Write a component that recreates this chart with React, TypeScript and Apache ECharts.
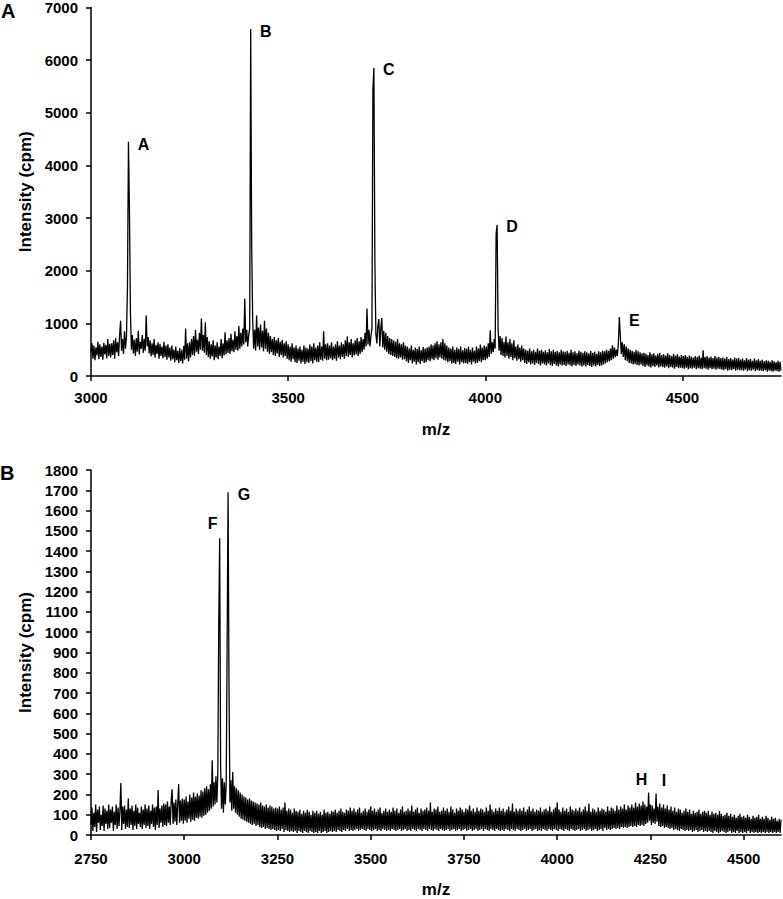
import React, { useEffect, useRef } from "react";
import * as echarts from "echarts";

// ---------- Panel A (m/z 3000 - 4750, sampled every 2.5) ----------
const mzStartA = 3000;
const mzStepA = 2.5;
const intensityA = [
  // 3000
  450, 620, 330, 580, 300, 540, 390, 650, 320, 600,
  360, 560, 310, 630, 410, 590, 340, 700, 380, 610,
  // 3050
  350, 620, 400, 680, 330, 720, 450, 640, 380, 760,
  1050, 480, 700, 420, 850, 520, 760, 1700, 4450, 3150,
  // 3100
  1200, 500, 780, 430, 690, 380, 720, 460, 860, 410,
  650, 520, 780, 440, 700, 480, 1150, 560, 740, 430,
  // 3150
  680, 370, 620, 400, 700, 350, 590, 420, 640, 330,
  610, 380, 560, 340, 650, 360, 580, 310, 600, 350,
  // 3200
  540, 290, 580, 320, 500, 260, 560, 300, 480, 250,
  530, 280, 500, 240, 570, 310, 900, 330, 620, 280,
  // 3250
  640, 350, 700, 400, 760, 380, 880, 460, 690, 420,
  820, 500, 1090, 480, 780, 440, 1020, 400, 740, 360,
  // 3300
  660, 330, 600, 370, 680, 300, 580, 350, 640, 320,
  560, 380, 700, 340, 620, 390, 830, 410, 680, 440,
  // 3350
  720, 420, 800, 470, 690, 450, 850, 500, 760, 480,
  950, 520, 820, 560, 900, 600, 1470, 640, 880, 560,
  // 3400
  780, 900, 6590, 2500, 1100, 520, 880, 480, 1150, 560,
  920, 500, 980, 540, 860, 470, 1050, 520, 900, 460,
  // 3450
  820, 420, 760, 450, 700, 400, 740, 380, 680, 430,
  720, 360, 650, 400, 690, 350, 620, 380, 660, 330,
  // 3500
  600, 300, 560, 270, 620, 320, 540, 260, 580, 250,
  520, 290, 560, 240, 500, 270, 580, 230, 540, 260,
  // 3550
  520, 250, 600, 280, 560, 240, 620, 300, 540, 270,
  580, 260, 640, 310, 560, 290, 850, 330, 600, 300,
  // 3600
  620, 310, 580, 340, 640, 300, 560, 330, 600, 290,
  660, 350, 580, 320, 640, 360, 600, 330, 680, 380,
  // 3650
  750, 360, 640, 400, 700, 350, 620, 390, 680, 410,
  720, 380, 660, 420, 740, 450, 700, 500, 820, 560,
  // 3700
  1280, 600, 880, 560, 760, 900, 5450, 5855, 2150, 800,
  620, 940, 1080, 560, 900, 1100, 540, 860, 500, 820,
  // 3750
  460, 760, 420, 720, 400, 700, 380, 680, 360, 650,
  340, 700, 330, 620, 350, 600, 310, 640, 320, 580,
  // 3800
  280, 560, 250, 520, 300, 580, 240, 500, 270, 540,
  220, 510, 260, 560, 230, 490, 280, 550, 250, 520,
  // 3850
  260, 540, 300, 560, 280, 600, 320, 580, 300, 620,
  340, 660, 310, 600, 350, 640, 330, 700, 300, 620,
  // 3900
  290, 580, 260, 540, 280, 520, 240, 560, 250, 500,
  230, 540, 270, 510, 220, 560, 260, 490, 240, 530,
  // 3950
  250, 520, 230, 560, 260, 500, 220, 540, 270, 480,
  240, 560, 250, 520, 280, 600, 260, 540, 300, 580,
  // 4000
  300, 560, 330, 620, 360, 870, 420, 640, 450, 700,
  520, 2700, 2870, 900, 480, 760, 400, 720, 380, 650,
  // 4050
  350, 750, 380, 640, 330, 700, 360, 620, 300, 680,
  340, 560, 290, 600, 320, 540, 270, 580, 300, 520,
  // 4100
  250, 500, 230, 480, 260, 520, 220, 470, 240, 500,
  210, 460, 250, 520, 230, 480, 200, 500, 240, 460,
  // 4150
  220, 490, 200, 450, 240, 510, 210, 470, 190, 500,
  230, 460, 200, 480, 180, 450, 220, 500, 200, 470,
  // 4200
  210, 460, 190, 480, 220, 440, 200, 500, 180, 450,
  210, 470, 190, 430, 220, 480, 200, 460, 180, 440,
  // 4250
  200, 470, 180, 450, 210, 430, 190, 480, 170, 440,
  200, 460, 180, 420, 210, 470, 190, 450, 200, 480,
  // 4300
  220, 470, 240, 500, 260, 480, 280, 520, 300, 585,
  330, 540, 360, 500, 380, 620, 1120, 760, 420, 640,
  // 4350
  360, 600, 300, 560, 280, 520, 250, 500, 240, 480,
  220, 460, 230, 500, 210, 470, 200, 450, 220, 430,
  // 4400
  190, 440, 170, 420, 200, 400, 180, 450, 160, 410,
  190, 430, 170, 390, 200, 420, 160, 440, 180, 400,
  // 4450
  170, 410, 160, 390, 180, 430, 150, 400, 170, 380,
  160, 420, 140, 390, 170, 410, 150, 370, 160, 400,
  // 4500
  150, 380, 140, 400, 160, 360, 130, 390, 150, 370,
  140, 350, 160, 380, 130, 360, 150, 390, 140, 350,
  // 4550
  130, 490, 150, 360, 140, 380, 120, 350, 150, 370,
  130, 340, 140, 380, 120, 350, 140, 360, 130, 340,
  // 4600
  120, 350, 110, 330, 130, 360, 100, 320, 120, 340,
  110, 310, 130, 350, 100, 330, 120, 340, 110, 310,
  // 4650
  110, 330, 100, 300, 120, 340, 90, 310, 110, 320,
  100, 290, 120, 330, 90, 300, 110, 320, 100, 290,
  // 4700
  100, 310, 90, 280, 110, 300, 80, 290, 100, 270,
  90, 300, 80, 280, 100, 260, 90, 290, 80, 270,
  // 4750
  100,
];
const peaksA = [
  { name: "A", mz: 3095 },
  { name: "B", mz: 3405 },
  { name: "C", mz: 3717.5 },
  { name: "D", mz: 4030 },
  { name: "E", mz: 4340 },
];
const xTicksA = [3000, 3500, 4000, 4500];

// ---------- Panel B (m/z 2750 - 4600, sampled every 2.5) ----------
const mzStartB = 2750;
const mzStepB = 2.5;
const intensityB = [
  // 2750
  50, 135, 20, 110, 40, 150, 15, 125, 60, 140,
  25, 100, 45, 145, 20, 130, 55, 120, 30, 150,
  // 2800
  35, 125, 60, 140, 20, 115, 50, 150, 30, 135,
  45, 120, 256, 25, 140, 55, 145, 30, 125, 40,
  // 2850
  180, 35, 130, 50, 145, 25, 120, 45, 150, 30,
  135, 55, 110, 40, 140, 30, 125, 50, 150, 35,
  // 2900
  130, 45, 145, 30, 120, 55, 150, 40, 135, 25,
  140, 50, 222, 35, 130, 60, 145, 40, 155, 50,
  // 2950
  150, 45, 165, 60, 140, 50, 170, 225, 55, 160,
  65, 175, 50, 150, 251, 60, 170, 70, 180, 55,
  // 3000
  175, 70, 190, 60, 165, 80, 200, 65, 185, 75,
  210, 70, 190, 85, 205, 80, 195, 90, 220, 85,
  // 3050
  215, 95, 230, 100, 240, 110, 225, 120, 250, 130,
  368, 140, 260, 150, 290, 160, 300, 1040, 1463, 340,
  // 3100
  130, 280, 110, 260, 150, 250, 935, 1690, 740, 160,
  270, 120, 310, 130, 240, 110, 230, 100, 220, 90,
  // 3150
  210, 80, 200, 75, 190, 70, 185, 65, 175, 60,
  180, 55, 170, 50, 165, 55, 160, 45, 155, 50,
  // 3200
  150, 40, 160, 35, 145, 40, 140, 30, 150, 35,
  135, 30, 145, 25, 140, 30, 130, 25, 135, 20,
  // 3250
  130, 25, 140, 20, 125, 30, 135, 15, 160, 25,
  120, 20, 130, 15, 125, 20, 110, 15, 130, 20,
  // 3300
  120, 10, 115, 20, 125, 15, 105, 10, 120, 20,
  110, 15, 125, 10, 115, 20, 100, 15, 120, 10,
  // 3350
  110, 15, 120, 10, 105, 20, 115, 10, 100, 15,
  125, 20, 110, 10, 115, 15, 105, 20, 120, 15,
  // 3400
  115, 20, 125, 15, 110, 25, 120, 20, 130, 15,
  115, 25, 110, 20, 125, 30, 120, 20, 135, 25,
  // 3450
  120, 20, 130, 25, 115, 30, 125, 20, 135, 25,
  110, 30, 120, 25, 130, 20, 115, 30, 125, 25,
  // 3500
  140, 20, 120, 25, 130, 30, 115, 20, 125, 25,
  135, 20, 110, 30, 120, 25, 130, 20, 115, 25,
  // 3550
  125, 20, 115, 30, 135, 25, 120, 20, 130, 25,
  110, 30, 125, 20, 140, 25, 115, 30, 120, 20,
  // 3600
  130, 25, 120, 20, 145, 30, 115, 25, 125, 20,
  135, 30, 110, 25, 130, 20, 120, 30, 125, 25,
  // 3650
  135, 20, 120, 30, 160, 25, 115, 20, 130, 30,
  125, 25, 140, 20, 115, 30, 120, 25, 135, 20,
  // 3700
  120, 25, 130, 30, 115, 20, 140, 25, 125, 30,
  110, 20, 130, 25, 120, 30, 135, 20, 125, 25,
  // 3750
  115, 30, 130, 20, 125, 25, 145, 30, 120, 20,
  130, 25, 115, 30, 135, 20, 120, 25, 130, 30,
  // 3800
  125, 20, 115, 30, 135, 25, 120, 20, 150, 30,
  125, 25, 115, 20, 130, 30, 120, 25, 135, 20,
  // 3850
  120, 25, 130, 20, 115, 30, 125, 25, 140, 20,
  120, 30, 155, 25, 115, 20, 130, 30, 120, 25,
  // 3900
  130, 20, 120, 25, 135, 30, 115, 20, 125, 25,
  140, 30, 120, 20, 130, 25, 115, 30, 125, 20,
  // 3950
  120, 25, 135, 20, 115, 30, 125, 25, 130, 20,
  120, 30, 140, 25, 115, 20, 125, 30, 135, 25,
  // 4000
  160, 20, 125, 30, 115, 25, 135, 20, 120, 30,
  130, 25, 115, 20, 140, 30, 125, 25, 120, 20,
  // 4050
  130, 25, 120, 30, 135, 20, 115, 25, 125, 30,
  140, 20, 120, 25, 155, 30, 115, 20, 130, 25,
  // 4100
  125, 30, 115, 20, 135, 25, 120, 30, 130, 20,
  125, 35, 115, 25, 140, 30, 120, 25, 135, 30,
  // 4150
  130, 35, 120, 30, 145, 35, 125, 30, 140, 40,
  130, 35, 150, 40, 125, 35, 145, 40, 135, 45,
  // 4200
  150, 40, 135, 45, 160, 40, 140, 50, 155, 45,
  145, 50, 165, 45, 150, 55, 140, 60, 210, 70,
  // 4250
  150, 50, 145, 60, 130, 55, 205, 65, 140, 45,
  155, 40, 135, 45, 150, 35, 130, 40, 145, 35,
  // 4300
  125, 30, 140, 35, 120, 25, 135, 30, 115, 25,
  130, 20, 125, 30, 110, 25, 120, 20, 130, 25,
  // 4350
  115, 20, 125, 25, 105, 15, 120, 20, 110, 25,
  115, 15, 125, 20, 105, 25, 115, 15, 120, 20,
  // 4400
  110, 15, 120, 20, 100, 15, 115, 10, 105, 20,
  110, 15, 100, 10, 120, 15, 105, 20, 95, 15,
  // 4450
  100, 10, 110, 15, 95, 20, 105, 10, 90, 15,
  100, 10, 85, 20, 95, 10, 105, 15, 90, 10,
  // 4500
  95, 15, 85, 10, 100, 20, 90, 10, 80, 15,
  95, 10, 85, 15, 90, 10, 100, 15, 80, 10,
  // 4550
  90, 15, 80, 10, 95, 15, 85, 10, 75, 15,
  90, 10, 80, 15, 85, 10, 70, 15, 80, 10,
  // 4600
  75,
];
const peaksB = [
  { name: "F", mz: 3095 },
  { name: "G", mz: 3117.5 },
  { name: "H", mz: 4245 },
  { name: "I", mz: 4265 },
];
const xTicksB = [2750, 3000, 3250, 3500, 3750, 4000, 4250, 4500];

// label offsets (style)
const labelOffsetsA: Record<string, number[]> = {
  A: [15, 3], B: [15, 2], C: [15, 2], D: [15, 2], E: [15, 3],
};
const labelOffsetsB: Record<string, number[]> = {
  F: [-7, -15], G: [16, 2], H: [-7, -13], I: [8, -13],
};

const FONT = "'Liberation Sans', Arial, Helvetica, sans-serif";

function toPairs(start: number, step: number, vals: number[]) {
  return vals.map((v, i) => [start + i * step, v]);
}

function peakMarks(
  peaks: { name: string; mz: number }[],
  start: number,
  step: number,
  vals: number[],
  offsets: Record<string, number[]>
) {
  return peaks.map((p) => {
    const idx = Math.round((p.mz - start) / step);
    return {
      name: p.name,
      coord: [p.mz, vals[idx]],
      label: { offset: offsets[p.name] },
    };
  });
}

const plain = (v: number) => String(v);

function xAxisCfg(gridIndex: number, min: number, max: number, ticks: number[], margin: number, nameGap: number) {
  return {
    type: "value",
    gridIndex,
    min,
    max,
    axisLine: { show: true, onZero: false, lineStyle: { color: "#000", width: 1.5 } },
    axisTick: { show: true, inside: false, length: 5, customValues: ticks, lineStyle: { color: "#000", width: 1.5 } },
    axisLabel: {
      customValues: ticks,
      formatter: plain,
      margin,
      color: "#000",
      fontFamily: FONT,
      fontWeight: "bold",
      fontSize: 15,
    },
    splitLine: { show: false },
    name: "m/z",
    nameLocation: "middle",
    nameGap,
    nameTextStyle: { color: "#000", fontFamily: FONT, fontWeight: "bold", fontSize: 17 },
  };
}

function yAxisCfg(gridIndex: number, max: number, interval: number) {
  return {
    type: "value",
    gridIndex,
    min: 0,
    max,
    interval,
    axisLine: { show: true, lineStyle: { color: "#000", width: 1.5 } },
    axisTick: { show: true, inside: false, length: 5, lineStyle: { color: "#000", width: 1.5 } },
    axisLabel: {
      formatter: plain,
      margin: 13,
      color: "#000",
      fontFamily: FONT,
      fontWeight: "bold",
      fontSize: 15,
    },
    splitLine: { show: false },
    name: "Intensity (cpm)",
    nameLocation: "middle",
    nameRotate: 90,
    nameGap: 50,
    nameTextStyle: { color: "#000", fontFamily: FONT, fontWeight: "bold", fontSize: 17 },
  };
}

function markCfg(data: any[]) {
  return {
    symbol: "circle",
    symbolSize: 1,
    silent: true,
    itemStyle: { color: "rgba(0,0,0,0)" },
    label: {
      show: true,
      position: "inside",
      formatter: "{b}",
      color: "#000",
      fontFamily: FONT,
      fontWeight: "bold",
      fontSize: 16,
    },
    data,
  };
}

export default function App() {
  const ref = useRef<HTMLDivElement>(null);

  useEffect(() => {
    if (!ref.current) return;
    const chart = echarts.init(ref.current, undefined, { renderer: "svg" });
    const option = {
      animation: false,
      backgroundColor: "#fff",
      grid: [
        { left: 91, top: 5, width: 690, height: 371 },
        { left: 91, top: 470, width: 690, height: 368 },
      ],
      xAxis: [
        xAxisCfg(0, 3000, 4750, xTicksA, 14, 45),
        xAxisCfg(1, 2750, 4600, xTicksB, 16, 46),
      ],
      yAxis: [yAxisCfg(0, 7000, 1000), yAxisCfg(1, 1800, 100)],
      series: [
        {
          type: "line",
          xAxisIndex: 0,
          yAxisIndex: 0,
          showSymbol: false,
          silent: true,
          lineStyle: { color: "#000", width: 1.3 },
          data: toPairs(mzStartA, mzStepA, intensityA),
          markPoint: markCfg(peakMarks(peaksA, mzStartA, mzStepA, intensityA, labelOffsetsA)),
        },
        {
          type: "line",
          xAxisIndex: 1,
          yAxisIndex: 1,
          showSymbol: false,
          silent: true,
          lineStyle: { color: "#000", width: 1.3 },
          data: toPairs(mzStartB, mzStepB, intensityB),
          markPoint: markCfg(peakMarks(peaksB, mzStartB, mzStepB, intensityB, labelOffsetsB)),
        },
      ],
      graphic: [
        {
          type: "text",
          left: 1,
          top: 1,
          style: { text: "A", fill: "#000", font: `bold 20px ${FONT}` },
        },
        {
          type: "text",
          left: 0,
          top: 463,
          style: { text: "B", fill: "#000", font: `bold 20px ${FONT}` },
        },
      ],
    };
    chart.setOption(option as any);
    return () => chart.dispose();
  }, []);

  return (
    <div
      ref={ref}
      style={{ position: "absolute", left: 0, top: 0, width: 783, height: 899 }}
    />
  );
}
